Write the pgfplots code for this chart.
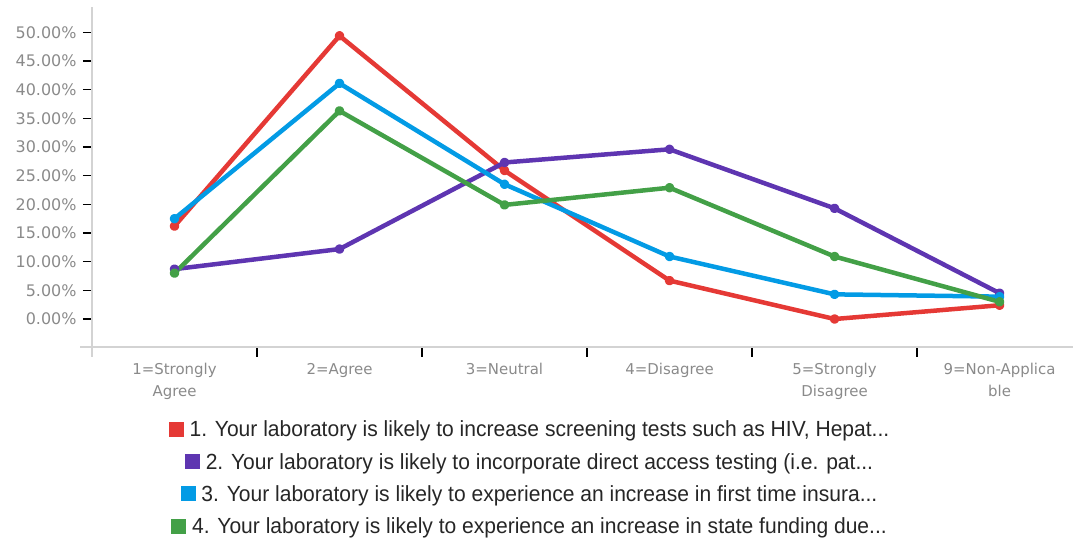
\documentclass[border=0pt]{standalone}
\usepackage{fontspec}
\setmainfont{DejaVu Sans}
\newfontfamily\legfont[FakeStretch=0.96]{Liberation Sans}
\usepackage{pgfplots}
\pgfplotsset{compat=1.18}
\definecolor{qred}{HTML}{E53935}
\definecolor{qpurple}{HTML}{5E35B1}
\definecolor{qblue}{HTML}{039BE5}
\definecolor{qgreen}{HTML}{43A047}
\definecolor{axgray}{HTML}{D3D3D3}
\definecolor{lblgray}{HTML}{8A8A8A}
\begin{document}
\begin{tikzpicture}[x=1bp,y=1bp]
\useasboundingbox (0,0) rectangle (1074,541);
\begin{axis}[
  at={(92bp,194bp)}, anchor=south west,
  scale only axis, width=981bp, height=340bp,
  xmin=-0.5, xmax=5.445, ymin=-4.88, ymax=54.42,
  axis x line=bottom, axis y line=left,
  axis line style={draw=axgray, line width=1.2bp, -},
  x axis line style={shorten <=-12bp},
  y axis line style={shorten <=-10bp},
  xtick={0,1,2,3,4,5},
  xticklabels={{1=Strongly\\Agree},{2=Agree},{3=Neutral},{4=Disagree},{5=Strongly\\Disagree},{9=Non-Applica\\ble}},
  minor xtick={0.5,1.5,2.5,3.5,4.5},
  major x tick style={draw=none},
  minor x tick style={draw=black, line width=1.2bp},
  y tick style={draw=black, line width=1.5bp},
  tick align=outside,
  major tick length=9bp, minor tick length=10bp,
  ytick={0,5,...,50},
  yticklabel={\pgfmathprintnumber[fixed,fixed zerofill,precision=2]{\tick}\%},
  /pgf/number format/assume math mode=true,
  yticklabel style={font=\fontsize{16}{18}\selectfont, text=lblgray, xshift=-3bp},
  xticklabel style={font=\fontsize{15}{22}\selectfont, text=lblgray, align=center, yshift=-4bp},
  legend image code/.code={},
  legend cell align=center,
  legend style={at={(0.4455,-0.205)}, anchor=north, draw=none, fill=none,
    font=\legfont\fontsize{22}{24}\selectfont, text=black!85, row sep=11bp,
    /tikz/every even column/.style={column sep=0pt}},
  every axis plot/.append style={line width=4.5bp, mark=*, mark size=2.5bp, line join=round},
]
\addplot[color=qred, mark options={fill=qred}] coordinates {(0,16.2) (1,49.4) (2,25.9) (3,6.7) (4,0.0) (5,2.4)};
\addlegendentry{\textcolor{qred}{\rule{15bp}{15bp}} 1. Your laboratory is likely to increase screening tests such as HIV, Hepat...}
\addplot[color=qpurple, mark options={fill=qpurple}] coordinates {(0,8.7) (1,12.2) (2,27.3) (3,29.6) (4,19.3) (5,4.5)};
\addlegendentry{\textcolor{qpurple}{\rule{15bp}{15bp}} 2. Your laboratory is likely to incorporate direct access testing (i.e. pat...}
\addplot[color=qblue, mark options={fill=qblue}] coordinates {(0,17.5) (1,41.1) (2,23.5) (3,10.9) (4,4.3) (5,3.9)};
\addlegendentry{\textcolor{qblue}{\rule{15bp}{15bp}} 3. Your laboratory is likely to experience an increase in first time insura...}
\addplot[color=qgreen, mark options={fill=qgreen}] coordinates {(0,8.0) (1,36.3) (2,19.9) (3,22.9) (4,10.9) (5,3.0)};
\addlegendentry{\textcolor{qgreen}{\rule{15bp}{15bp}} 4. Your laboratory is likely to experience an increase in state funding due...}
\end{axis}
\end{tikzpicture}
\end{document}
